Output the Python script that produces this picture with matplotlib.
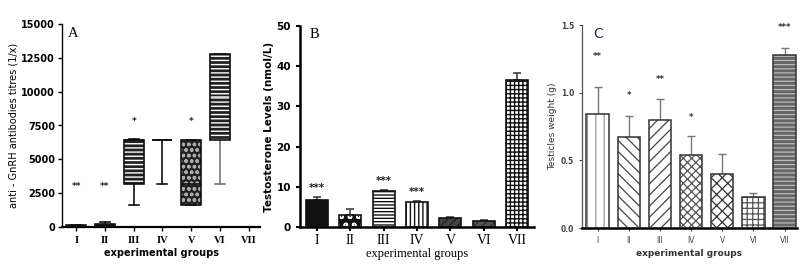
import numpy as np
import matplotlib.pyplot as plt

groups = ['I', 'II', 'III', 'IV', 'V', 'VI', 'VII']

# A - anti-GnRH antibody titres (box plots)
titre_q1 = [0, 0, 3200, 6400, 1600, 6400]
titre_med = [50, 100, 6400, 6400, 3200, 9600]
titre_q3 = [120, 250, 6400, 6400, 6400, 12800]
titre_lo = [0, 0, 1600, 3200, 1600, 3200]
titre_hi = [120, 400, 6500, 6400, 6400, 12800]
titre_sig = ['**', '**', '*', '', '*', '', '']
titre_sig_y = [3000, 3000, 7800, 0, 7800, 0, 0]

# B - testosterone
testo = [6.8, 2.9, 8.9, 6.2, 2.3, 1.6, 36.5]
testo_err = [0.6, 1.5, 0.3, 0.2, 0.2, 0.1, 1.7]
testo_sig = ['***', '', '***', '***', '', '', '']

# C - testicles weight
weight = [0.84, 0.67, 0.80, 0.54, 0.40, 0.23, 1.28]
weight_err = [0.20, 0.16, 0.15, 0.14, 0.15, 0.03, 0.05]
weight_sig = ['**', '*', '**', '*', '', '', '***']
weight_sig_y = [1.27, 0.98, 1.10, 0.82, 0, 0, 1.48]

W, H = 805, 264
fig = plt.figure(figsize=(W / 100, H / 100), dpi=100)
plt.rcParams['hatch.linewidth'] = 1.0

def px_axes(l, r, b, t):
    return fig.add_axes([l / W, (H - b) / H, (r - l) / W, (b - t) / H])

x = np.arange(1, 8)

# ---------------- A ----------------
axA = px_axes(62, 260, 227, 24)
stats = []
for i in range(6):
    stats.append(dict(q1=titre_q1[i], med=titre_med[i], q3=titre_q3[i],
                      whislo=titre_lo[i], whishi=titre_hi[i], fliers=[]))
bp = axA.bxp(stats, positions=x[:6], widths=0.7, patch_artist=True,
             showfliers=False,
             boxprops=dict(facecolor='#222', edgecolor='white', linewidth=0),
             whiskerprops=dict(color='#111', linewidth=1.2),
             capprops=dict(color='#111', linewidth=1.2),
             medianprops=dict(color='#111', linewidth=1.2))
fillsA = [('#222', '#222', ''), ('#222', '#222', ''), ('#222', 'white', '----'),
          ('white', '#111', ''), ('#222', '#aaa', 'ooo'), ('#222', 'white', '----')]
for i, box in enumerate(bp['boxes']):
    fc, hc, hatch = fillsA[i]
    box.set_facecolor(fc)
    box.set_edgecolor(hc)
    box.set_hatch(hatch)
bp['medians'][5].set_color('#ddd')
axA.bar(x[:6], np.array(titre_q3) - np.array(titre_q1), bottom=titre_q1, width=0.7,
        facecolor='none', edgecolor='#111', linewidth=1.2, zorder=3)
bp['whiskers'][10].set_color('#777')
bp['caps'][10].set_color('#777')
for xi, s, yv in zip(x, titre_sig, titre_sig_y):
    if s:
        axA.text(xi, yv, s, ha='center', va='center', fontsize=6.5, fontweight='bold', color='#222')
axA.set_xlim(0.5, 7.4)
axA.set_ylim(0, 15000)
axA.set_yticks([0, 2500, 5000, 7500, 10000, 12500, 15000])
axA.set_xticks(x)
axA.set_xticklabels(groups, fontsize=7.5, fontweight='bold', family='Liberation Serif')
axA.tick_params(axis='y', labelsize=7, width=1, length=3, pad=2)
axA.tick_params(axis='x', width=1, length=3)
for lab in axA.get_yticklabels():
    lab.set_fontweight('bold')
axA.spines[['top', 'right']].set_visible(False)
axA.spines['left'].set_linewidth(1.0)
axA.spines['bottom'].set_linewidth(1.6)
axA.set_ylabel('anti - GnRH antibodies titres (1/x)', fontsize=7, labelpad=2)
axA.set_xlabel('experimental groups', fontsize=7, fontweight='bold', labelpad=2)
axA.text(0.72, 14300, 'A', fontsize=10.5, family='Liberation Serif', va='center')

# ---------------- B ----------------
axB = px_axes(300, 534, 227, 26)
fillsB = [('#111', '#111', ''), ('#111', 'white', 'oo'), ('white', '#111', '-----'),
          ('white', '#111', '||||'), ('#444', '#222', '////'), ('#555', '#333', '////'),
          ('white', '#111', '++++')]
for i in range(7):
    fc, hc, hatch = fillsB[i]
    axB.bar(x[i], testo[i], width=0.66, facecolor=fc, edgecolor=hc, hatch=hatch, linewidth=0, zorder=2)
axB.bar(x, testo, width=0.66, facecolor='none', edgecolor='#111', linewidth=1.2, zorder=3)
axB.errorbar(x, testo, yerr=[np.zeros(7), testo_err], fmt='none', ecolor='#333',
             elinewidth=1.1, capsize=3, capthick=1.1, zorder=1)
for xi, s, v, e in zip(x, testo_sig, testo, testo_err):
    if s:
        axB.text(xi, v + e + 1.0, s, ha='center', va='bottom', fontsize=7.5, fontweight='bold', color='#222')
axB.set_xlim(0.5, 7.5)
axB.set_ylim(0, 50)
axB.set_yticks([0, 10, 20, 30, 40, 50])
axB.set_xticks(x)
axB.set_xticklabels(groups, fontsize=10, family='Liberation Serif')
axB.tick_params(axis='y', labelsize=7.5, width=1.5, length=3)
axB.tick_params(axis='x', width=1.5, length=3, pad=2)
for lab in axB.get_yticklabels():
    lab.set_fontweight('bold')
axB.spines[['top', 'right']].set_visible(False)
axB.spines['left'].set_linewidth(1.8)
axB.spines['bottom'].set_linewidth(1.8)
axB.set_ylabel('Testosterone Levels (nmol/L)', fontsize=7.5, fontweight='bold', labelpad=2)
axB.set_xlabel('experimental groups', fontsize=9, family='Liberation Serif', labelpad=1)
axB.text(0.8, 48, 'B', fontsize=10.5, family='Liberation Serif', va='center')

# ---------------- C ----------------
axC = px_axes(582, 797, 228, 25)
fillsC = [('white', '#999', '||'), ('white', '#444', '\\\\\\'), ('white', '#444', '///'),
          ('white', '#555', 'xxxx'), ('white', '#333', 'xxx'), ('white', '#555', '+++'),
          ('#666', '#bbb', '----')]
with plt.rc_context({'hatch.linewidth': 0.9}):
    for i in range(7):
        fc, hc, hatch = fillsC[i]
        axC.bar(x[i], weight[i], width=0.72, facecolor=fc, edgecolor=hc, hatch=hatch, linewidth=0, zorder=2)
axC.bar(x, weight, width=0.72, facecolor='none', edgecolor='#333', linewidth=1.1, zorder=3)
axC.errorbar(x, weight, yerr=[np.zeros(7), weight_err], fmt='none', ecolor='#777',
             elinewidth=1.0, capsize=3, capthick=1.0, zorder=1)
for xi, s, yv in zip(x, weight_sig, weight_sig_y):
    if s:
        axC.text(xi, yv, s, ha='center', va='center', fontsize=6, fontweight='bold', color='#333')
axC.set_xlim(0.5, 7.4)
axC.set_ylim(0, 1.5)
axC.set_yticks([0, 0.5, 1.0, 1.5])
axC.set_yticklabels(['0.0', '0.5', '1.0', '1.5'])
axC.set_xticks(x)
axC.set_xticklabels(groups, fontsize=5.5)
axC.tick_params(axis='y', labelsize=5.5, width=0.8, length=2, colors='#444')
axC.tick_params(axis='x', labelsize=5.5, width=0.8, length=2, colors='#444')
for lab in axC.get_yticklabels():
    lab.set_fontweight('bold')
axC.spines[['top', 'right']].set_visible(False)
axC.spines['left'].set_linewidth(0.9)
axC.spines['left'].set_color('#555')
axC.spines['bottom'].set_linewidth(1.8)
axC.set_ylabel('Testicles weight (g)', fontsize=6.5, labelpad=3, color='#333')
axC.set_xlabel('experimental groups', fontsize=6.5, labelpad=3, color='#333', fontweight='bold')
axC.text(0.85, 1.43, 'C', fontsize=10, va='center', color='#223355')

fig.savefig('out.png', dpi=100)
